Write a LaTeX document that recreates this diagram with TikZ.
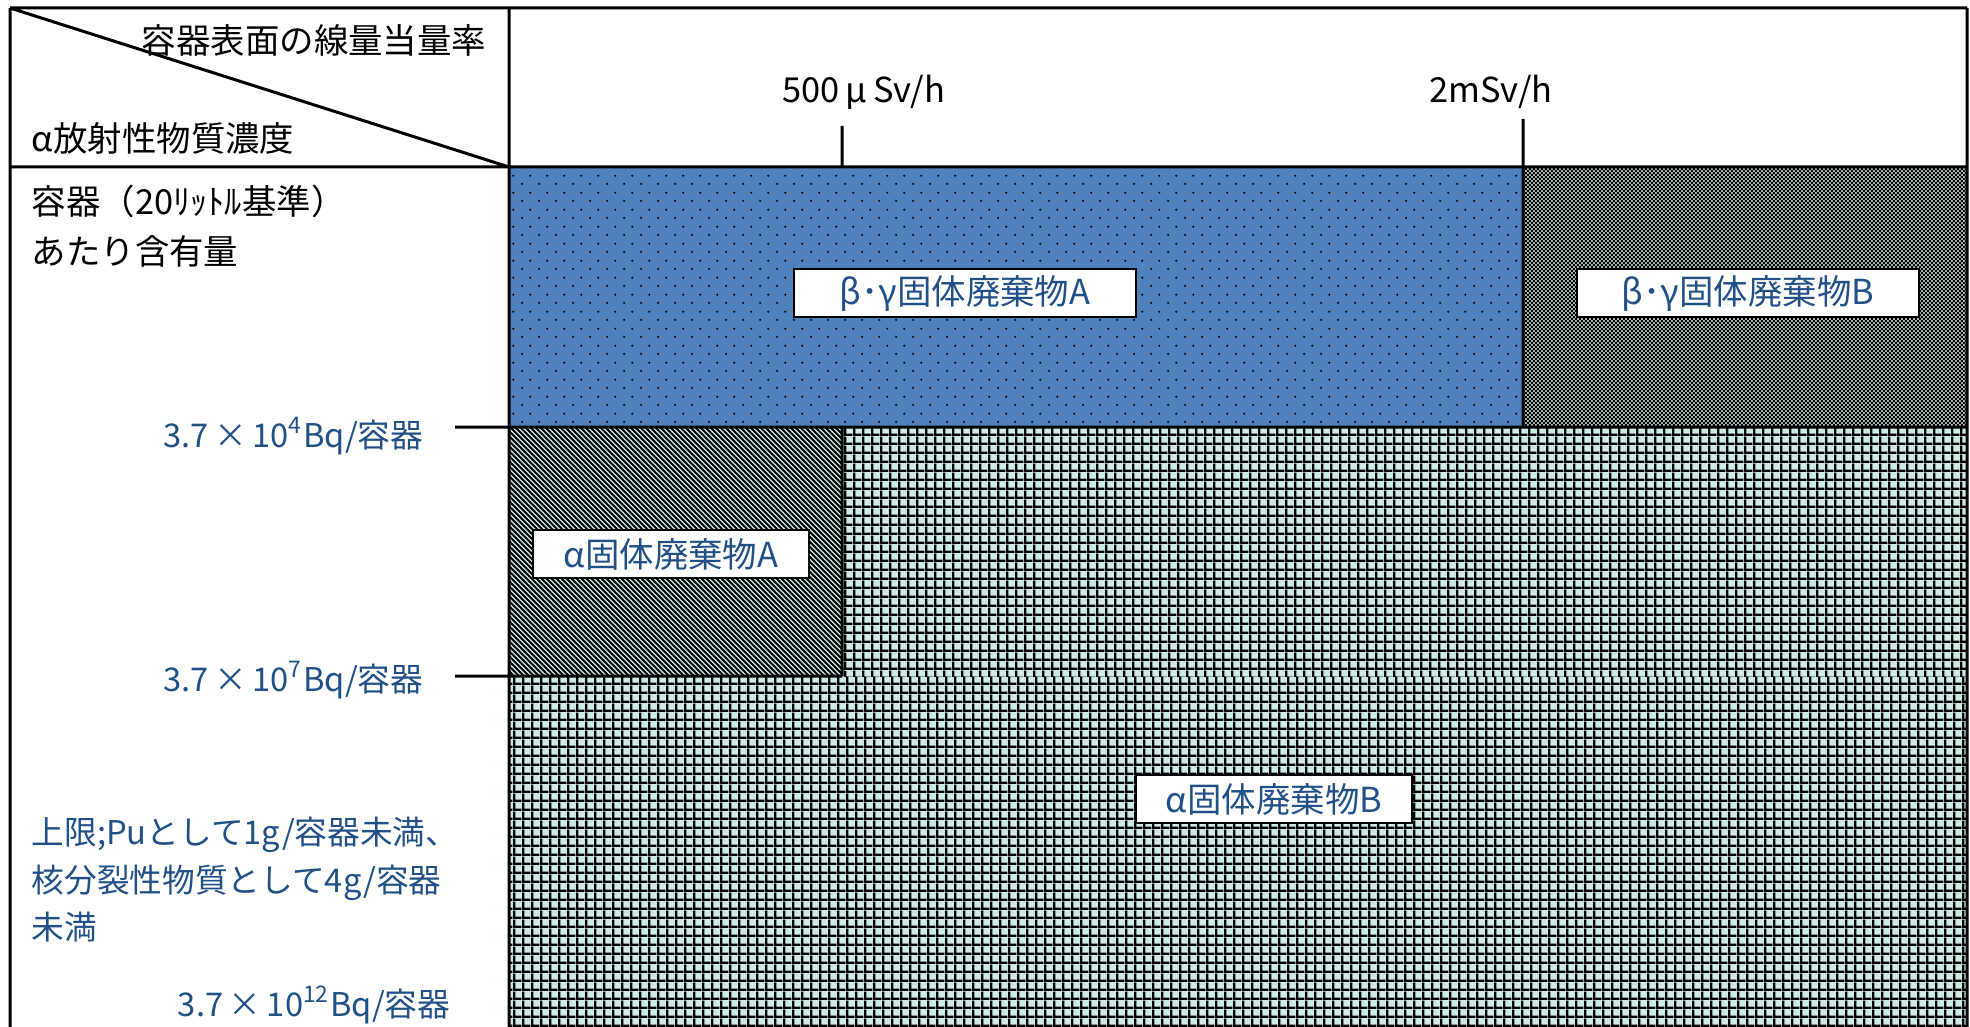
\documentclass[tikz,border=0pt]{standalone}
\usepackage{fontspec}
\setmainfont{Noto Sans CJK JP}
\usepackage{xcolor}
\usepackage{tikz}
\usetikzlibrary{positioning}
\usetikzlibrary{patterns.meta}
\definecolor{fillblue}{RGB}{79,129,189}
\definecolor{paleteal}{RGB}{205,234,230}
\definecolor{checkbase}{RGB}{175,190,188}
\definecolor{textblue}{RGB}{33,80,135}

\tikzdeclarepattern{name=sparsedots,type=uncolored,
  bounding box={(0,0) and (1.67mm,1.67mm)},tile size={(1.67mm,1.67mm)},
  code={\fill (0.42mm,0.42mm) circle (0.12mm); \fill (1.25mm,1.25mm) circle (0.12mm);}}
\tikzdeclarepattern{name=finegrid,type=uncolored,
  bounding box={(0,0) and (0.87mm,0.87mm)},tile size={(0.87mm,0.87mm)},
  code={\fill (0,0) rectangle (0.87mm,0.24mm); \fill (0,0) rectangle (0.24mm,0.87mm);}}
\tikzdeclarepattern{name=finechecker,type=uncolored,
  bounding box={(0,0) and (0.4mm,0.4mm)},tile size={(0.4mm,0.4mm)},
  code={\fill (0,0) rectangle (0.2mm,0.2mm); \fill (0.2mm,0.2mm) rectangle (0.4mm,0.4mm);}}

\tikzset{head text/.style={inner sep=0pt,font=\fontsize{9.8}{12}\selectfont},
  level text/.style={inner sep=0pt,text=textblue,font=\fontsize{9.3}{12}\selectfont},
  waste box/.style={draw,line width=0.2mm,fill=white,text=textblue,inner sep=0pt,
    minimum height=4.8mm,font=\fontsize{9.8}{12}\selectfont},
  frame line/.style={line width=0.3mm},
  hatch line/.style={line width=0.18mm},}

\begin{document}
\begin{tikzpicture}[x=0.1mm,y=-0.1mm]
    \useasboundingbox (0,0) rectangle (1970,1027);
    \fill[white] (0,0) rectangle (1970,1027);

    \fill[paleteal] (509,167) rectangle (1967,1027);
    \fill[pattern=finegrid,pattern color=black] (842,427) rectangle (1967,676);
    \fill[pattern=finegrid,pattern color=black] (509,676) rectangle (1967,1027);
    \begin{scope}
      \clip (509,427) rectangle (842,676);
      \foreach \x in {0,...,118}
        \draw[hatch line] (250+5*\x,427) -- ++(260,260);
    \end{scope}
    \fill[fillblue] (509,167) rectangle (1523,427);
    \fill[pattern=sparsedots,pattern color=black] (509,167) rectangle (1523,427);
    \fill[checkbase] (1523,167) rectangle (1967,427);
    \fill[pattern=finechecker,pattern color=black] (1523,167) rectangle (1967,427);

    \coordinate (nw) at (10,8);
    \coordinate (ne) at (1967,8);
    \coordinate (sw) at (10,1027);
    \coordinate (se) at (1967,1027);
    \coordinate (colt) at (509,8);
    \coordinate (colb) at (509,1027);
    \coordinate (headl) at (10,167);
    \coordinate (headm) at (509,167);
    \coordinate (headr) at (1967,167);
    \coordinate (lowtop) at (842,126);
    \coordinate (lowfoot) at (842,167);
    \coordinate (hightop) at (1523,119);
    \coordinate (highfoot) at (1523,427);
    \coordinate (fourl) at (455,427);
    \coordinate (fourr) at (1967,427);
    \coordinate (sevenl) at (455,676);
    \coordinate (sevenr) at (842,676);
    \coordinate (alphatop) at (842,427);

    \node[head text,anchor=east] (doserate) at (487,40) {容器表面の線量当量率};
    \node[head text,anchor=west] (alphaconc) at (31,138) {α放射性物質濃度};
    \node[head text,anchor=west] (perbox) at (31,201) {容器（20ﾘｯﾄﾙ基準）};
    \node[head text,anchor=west] (content) at (31,251) {あたり含有量};
    \node[head text] (low) at (864,92) {500\,μ\,Sv/h};
    \node[head text] (high) at (1491,92) {2mSv/h};

    \node[level text,anchor=east] (levfour) at (424,436) {3.7\,×\,10\textsuperscript{4}Bq/容器};
    \node[level text,anchor=east] (levseven) at (424,680) {3.7\,×\,10\textsuperscript{7}Bq/容器};
    \node[level text,anchor=west] (limitone) at (31,835) {上限;Puとして1g/容器未満、};
    \node[level text,anchor=west] (limittwo) at (31,883) {核分裂性物質として4g/容器};
    \node[level text,anchor=west] (limitthree) at (31,927) {未満};
    \node[level text,anchor=east] (levtwelve) at (451,1005) {3.7\,×\,10\textsuperscript{12}Bq/容器};

    \node[waste box,minimum width=34.2mm] (bgA) at (965,293) {β･γ固体廃棄物A};
    \node[waste box,minimum width=34.2mm] (bgB) at (1748,293) {β･γ固体廃棄物B};
    \node[waste box,minimum width=27.6mm] (alA) at (671,554) {α固体廃棄物A};
    \node[waste box,minimum width=27.6mm] (alB) at (1274,799) {α固体廃棄物B};

    \path[draw,frame line]
    (nw) -- (ne)
    (nw) -- (sw)
    (ne) -- (se)
    (colt) -- (colb)
    (headl) -- (headr)
    (nw) -- (headm)
    (lowtop) -- (lowfoot)
    (hightop) -- (highfoot)
    (fourl) -- (fourr)
    (sevenl) -- (sevenr)
    (alphatop) -- (sevenr);
\end{tikzpicture}
\end{document}
